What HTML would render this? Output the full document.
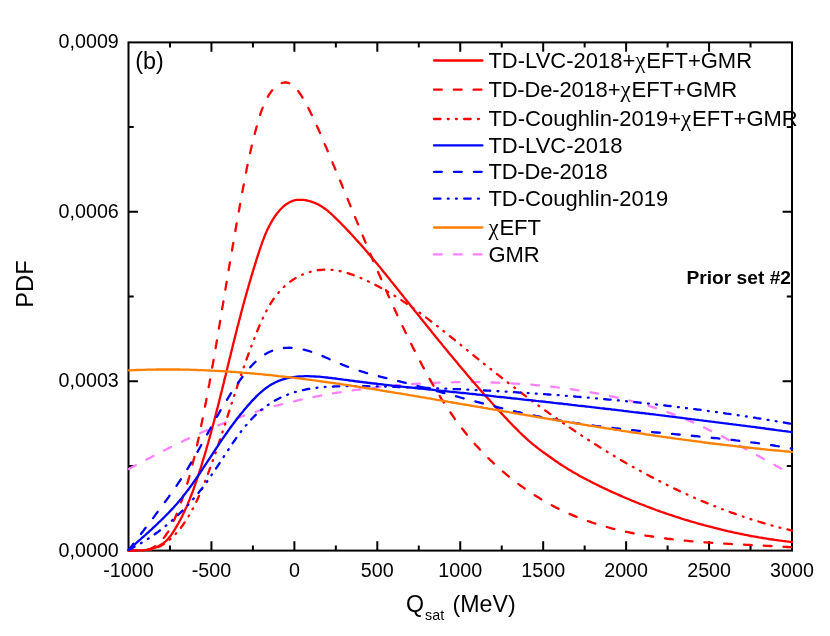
<!DOCTYPE html>
<html><head><meta charset="utf-8"><title>PDF of Qsat</title>
<style>
html,body{margin:0;padding:0;background:#fff;}
body{width:830px;height:636px;overflow:hidden;font-family:"Liberation Sans",sans-serif;}
svg{display:block;will-change:transform;}
</style></head><body>
<svg width="830" height="636" viewBox="0 0 830 636">
<rect x="0" y="0" width="830" height="636" fill="#ffffff"/>
<g stroke="#000" stroke-width="2" fill="none" stroke-linecap="butt">
<rect x="128.5" y="42.4" width="663.5" height="508.20000000000005"/>
<path d="M169.97,550.6 v-5.2 M169.97,42.4 v5.2 M211.44,550.6 v-9.4 M211.44,42.4 v9.4 M252.91,550.6 v-5.2 M252.91,42.4 v5.2 M294.38,550.6 v-9.4 M294.38,42.4 v9.4 M335.84,550.6 v-5.2 M335.84,42.4 v5.2 M377.31,550.6 v-9.4 M377.31,42.4 v9.4 M418.78,550.6 v-5.2 M418.78,42.4 v5.2 M460.25,550.6 v-9.4 M460.25,42.4 v9.4 M501.72,550.6 v-5.2 M501.72,42.4 v5.2 M543.19,550.6 v-9.4 M543.19,42.4 v9.4 M584.66,550.6 v-5.2 M584.66,42.4 v5.2 M626.12,550.6 v-9.4 M626.12,42.4 v9.4 M667.59,550.6 v-5.2 M667.59,42.4 v5.2 M709.06,550.6 v-9.4 M709.06,42.4 v9.4 M750.53,550.6 v-5.2 M750.53,42.4 v5.2 M128.5,465.90 h5.2 M792.0,465.90 h-5.2 M128.5,381.20 h9.4 M792.0,381.20 h-9.4 M128.5,296.50 h5.2 M792.0,296.50 h-5.2 M128.5,211.80 h9.4 M792.0,211.80 h-9.4 M128.5,127.10 h5.2 M792.0,127.10 h-5.2"/>
</g>
<g fill="none" stroke-linecap="round" stroke-linejoin="round" stroke-width="2.3">
<path d="M128.9,469.0 L130.6,468.1 L132.4,467.1 L134.1,466.2 L135.8,465.3 L137.6,464.4 L139.3,463.4 L141.0,462.5 L142.8,461.6 L144.5,460.6 L146.3,459.7 L148.0,458.8 L149.8,457.9 L151.5,457.0 L153.3,456.0 L155.1,455.1 L156.8,454.2 L158.6,453.3 L160.4,452.4 L162.2,451.5 L164.0,450.6 L165.7,449.7 L167.5,448.8 L169.3,447.9 L171.1,447.0 L172.9,446.1 L174.7,445.2 L176.5,444.3 L178.3,443.4 L180.1,442.5 L181.9,441.7 L183.7,440.8 L185.6,439.9 L187.4,439.1 L189.2,438.2 L191.0,437.4 L192.9,436.5 L194.7,435.7 L196.5,434.8 L198.3,434.0 L200.2,433.2 L202.0,432.3 L203.9,431.5 L205.7,430.7 L207.6,429.9 L209.4,429.1 L211.3,428.3 L213.1,427.5 L215.0,426.8 L216.8,426.0 L218.7,425.2 L220.6,424.5 L222.4,423.7 L224.3,423.0 L226.2,422.2 L228.0,421.5 L229.9,420.8 L231.8,420.1 L233.7,419.4 L235.6,418.7 L237.4,418.0 L239.3,417.3 L241.2,416.6 L243.1,416.0 L245.0,415.3 L246.9,414.7 L248.8,414.0 L250.7,413.4 L252.6,412.8 L254.5,412.2 L256.4,411.6 L258.3,411.0 L260.2,410.4 L262.1,409.8 L264.1,409.2 L266.0,408.7 L267.9,408.1 L269.8,407.6 L271.7,407.0 L273.7,406.5 L275.6,405.9 L277.5,405.4 L279.4,404.9 L281.4,404.4 L283.3,403.9 L285.2,403.4 L287.2,402.9 L289.1,402.4 L291.0,402.0 L293.0,401.5 L294.9,401.1 L296.9,400.6 L298.8,400.2 L300.8,399.7 L302.7,399.3 L304.7,398.9 L306.6,398.4 L308.6,398.0 L310.5,397.6 L312.5,397.2 L314.4,396.8 L316.4,396.4 L318.3,396.1 L320.3,395.7 L322.3,395.3 L324.2,395.0 L326.2,394.6 L328.2,394.3 L330.1,393.9 L332.1,393.6 L334.1,393.2 L336.0,392.9 L338.0,392.6 L340.0,392.3 L341.9,392.0 L343.9,391.7 L345.9,391.4 L347.9,391.1 L349.9,390.8 L351.8,390.5 L353.8,390.2 L355.8,389.9 L357.8,389.7 L359.8,389.4 L361.7,389.1 L363.7,388.9 L365.7,388.6 L367.7,388.4 L369.7,388.1 L371.7,387.9 L373.7,387.7 L375.7,387.4 L377.6,387.2 L379.6,387.0 L381.6,386.8 L383.6,386.6 L385.6,386.4 L387.6,386.2 L389.6,386.0 L391.6,385.8 L393.6,385.6 L395.6,385.4 L397.6,385.2 L399.6,385.1 L401.6,384.9 L403.6,384.7 L405.6,384.6 L407.6,384.4 L409.6,384.3 L411.6,384.1 L413.6,384.0 L415.6,383.9 L417.6,383.7 L419.6,383.6 L421.6,383.5 L423.6,383.4 L425.6,383.3 L427.6,383.2 L429.6,383.1 L431.6,383.0 L433.6,382.9 L435.6,382.8 L437.6,382.7 L439.6,382.6 L441.6,382.6 L443.6,382.5 L445.6,382.5 L447.6,382.4 L449.6,382.3 L451.6,382.3 L453.6,382.3 L455.6,382.2 L457.6,382.2 L459.7,382.2 L461.7,382.2 L463.7,382.1 L465.7,382.1 L467.7,382.1 L469.7,382.1 L471.7,382.1 L473.7,382.1 L475.7,382.2 L477.7,382.2 L479.7,382.2 L481.7,382.2 L483.7,382.3 L485.7,382.3 L487.7,382.4 L489.7,382.4 L491.7,382.5 L493.7,382.5 L495.7,382.6 L497.7,382.7 L499.7,382.8 L501.7,382.8 L503.7,382.9 L505.7,383.0 L507.7,383.1 L509.7,383.2 L511.7,383.3 L513.7,383.5 L515.7,383.6 L517.6,383.7 L519.6,383.8 L521.6,384.0 L523.6,384.1 L525.6,384.3 L527.6,384.4 L529.6,384.6 L531.6,384.7 L533.6,384.9 L535.6,385.1 L537.5,385.3 L539.5,385.5 L541.5,385.7 L543.5,385.9 L545.5,386.1 L547.5,386.3 L549.4,386.5 L551.4,386.7 L553.4,386.9 L555.4,387.2 L557.3,387.4 L559.3,387.6 L561.3,387.9 L563.3,388.1 L565.2,388.4 L567.2,388.7 L569.2,388.9 L571.1,389.2 L573.1,389.5 L575.1,389.8 L577.0,390.1 L579.0,390.4 L581.0,390.7 L582.9,391.0 L584.9,391.3 L586.8,391.6 L588.8,392.0 L590.8,392.3 L592.7,392.7 L594.7,393.0 L596.6,393.4 L598.6,393.7 L600.5,394.1 L602.5,394.5 L604.4,394.9 L606.3,395.2 L608.3,395.6 L610.2,396.1 L612.2,396.5 L614.1,396.9 L616.0,397.3 L618.0,397.8 L619.9,398.2 L621.8,398.6 L623.8,399.1 L625.7,399.6 L627.6,400.1 L629.5,400.5 L631.5,401.0 L633.4,401.5 L635.3,402.1 L637.2,402.6 L639.1,403.1 L641.0,403.6 L642.9,404.2 L644.8,404.7 L646.8,405.3 L648.7,405.9 L650.6,406.5 L652.5,407.1 L654.4,407.7 L656.3,408.3 L658.1,408.9 L660.0,409.5 L661.9,410.2 L663.8,410.8 L665.7,411.5 L667.6,412.2 L669.5,412.9 L671.3,413.6 L673.2,414.3 L675.1,415.0 L677.0,415.7 L678.8,416.5 L680.7,417.2 L682.6,418.0 L684.4,418.7 L686.3,419.5 L688.1,420.3 L690.0,421.1 L691.8,421.9 L693.7,422.7 L695.5,423.6 L697.4,424.4 L699.2,425.2 L701.1,426.1 L702.9,427.0 L704.7,427.8 L706.6,428.7 L708.4,429.6 L710.2,430.5 L712.1,431.4 L713.9,432.3 L715.7,433.2 L717.5,434.1 L719.3,435.0 L721.1,435.9 L722.9,436.8 L724.7,437.8 L726.6,438.7 L728.3,439.7 L730.1,440.6 L731.9,441.6 L733.7,442.5 L735.5,443.5 L737.3,444.4 L739.1,445.4 L740.9,446.3 L742.6,447.3 L744.4,448.3 L746.2,449.2 L747.9,450.2 L749.7,451.2 L751.5,452.1 L753.2,453.1 L755.0,454.1 L756.7,455.1 L758.5,456.0 L760.2,457.0 L762.0,458.0 L763.7,458.9 L765.4,459.9 L767.2,460.9 L768.9,461.8 L770.6,462.8 L772.3,463.8 L774.1,464.7 L775.8,465.7 L777.5,466.6 L779.2,467.6 L780.9,468.5 L782.6,469.5 L783.4,469.9" stroke="#ff80ff" stroke-dasharray="7.8 12.1"/>
<path d="M128.5,550.4 L130.3,550.4 L132.2,550.4 L134.2,550.4 L136.2,550.4 L138.2,550.4 L140.3,550.4 L142.4,550.4 L144.5,550.2 L146.5,549.9 L148.6,549.5 L150.6,549.0 L152.6,548.4 L154.6,547.8 L156.5,547.1 L158.3,546.2 L160.1,545.3 L161.8,544.3 L163.4,543.2 L164.9,542.0 L166.4,540.7 L167.7,539.3 L169.0,537.8 L170.2,536.3 L171.4,534.7 L172.5,533.1 L173.6,531.5 L174.6,529.8 L175.6,528.1 L176.6,526.4 L177.6,524.7 L178.6,523.0 L179.5,521.2 L180.5,519.5 L181.4,517.7 L182.3,515.9 L183.1,514.1 L184.0,512.4 L184.8,510.5 L185.6,508.7 L186.5,506.9 L187.3,505.1 L188.0,503.3 L188.8,501.4 L189.6,499.6 L190.3,497.7 L191.0,495.8 L191.7,494.0 L192.5,492.1 L193.2,490.2 L193.8,488.3 L194.5,486.4 L195.2,484.5 L195.8,482.6 L196.5,480.7 L197.1,478.8 L197.8,476.9 L198.4,475.0 L199.0,473.1 L199.6,471.2 L200.2,469.3 L200.9,467.4 L201.5,465.4 L202.0,463.5 L202.6,461.6 L203.2,459.7 L203.8,457.7 L204.4,455.8 L205.0,453.9 L205.5,452.0 L206.1,450.0 L206.6,448.1 L207.2,446.2 L207.7,444.3 L208.3,442.3 L208.8,440.4 L209.4,438.5 L209.9,436.5 L210.4,434.6 L211.0,432.7 L211.5,430.7 L212.0,428.8 L212.5,426.8 L213.1,424.9 L213.6,423.0 L214.1,421.0 L214.6,419.1 L215.1,417.2 L215.6,415.2 L216.1,413.3 L216.6,411.3 L217.1,409.4 L217.6,407.5 L218.1,405.5 L218.6,403.6 L219.1,401.6 L219.5,399.7 L220.0,397.8 L220.5,395.8 L221.0,393.9 L221.5,392.0 L222.0,390.0 L222.4,388.1 L222.9,386.1 L223.4,384.2 L223.9,382.3 L224.3,380.3 L224.8,378.4 L225.3,376.5 L225.8,374.5 L226.2,372.6 L226.7,370.7 L227.2,368.7 L227.6,366.8 L228.1,364.9 L228.6,362.9 L229.1,361.0 L229.5,359.1 L230.0,357.1 L230.5,355.2 L230.9,353.3 L231.4,351.4 L231.9,349.4 L232.4,347.5 L232.8,345.6 L233.3,343.6 L233.8,341.7 L234.3,339.8 L234.8,337.9 L235.3,335.9 L235.7,334.0 L236.2,332.1 L236.7,330.2 L237.2,328.2 L237.7,326.3 L238.2,324.4 L238.7,322.5 L239.2,320.5 L239.7,318.6 L240.2,316.7 L240.7,314.8 L241.2,312.8 L241.7,310.9 L242.2,309.0 L242.7,307.1 L243.2,305.1 L243.8,303.2 L244.3,301.3 L244.8,299.4 L245.4,297.4 L245.9,295.5 L246.4,293.6 L247.0,291.6 L247.5,289.7 L248.1,287.8 L248.6,285.9 L249.2,283.9 L249.7,282.0 L250.3,280.1 L250.9,278.1 L251.4,276.2 L252.0,274.3 L252.6,272.3 L253.2,270.4 L253.8,268.4 L254.4,266.5 L255.0,264.6 L255.6,262.6 L256.2,260.7 L256.8,258.7 L257.4,256.8 L258.0,254.9 L258.7,252.9 L259.3,251.0 L259.9,249.0 L260.6,247.1 L261.3,245.1 L261.9,243.2 L262.6,241.3 L263.4,239.4 L264.1,237.5 L264.8,235.6 L265.6,233.7 L266.4,231.9 L267.2,230.1 L268.1,228.3 L269.0,226.5 L269.9,224.7 L270.8,223.0 L271.8,221.3 L272.8,219.6 L273.9,217.9 L274.9,216.3 L276.1,214.7 L277.2,213.2 L278.5,211.7 L279.7,210.2 L281.0,208.8 L282.4,207.5 L283.8,206.2 L285.3,205.0 L286.8,203.9 L288.4,202.9 L290.0,202.0 L291.7,201.3 L293.5,200.7 L295.3,200.2 L297.2,199.9 L299.1,199.8 L301.1,199.8 L303.1,199.9 L305.1,200.1 L307.2,200.5 L309.2,201.0 L311.2,201.6 L313.2,202.3 L315.2,203.1 L317.2,204.0 L319.1,204.9 L320.9,206.0 L322.6,207.1 L324.3,208.3 L326.0,209.5 L327.6,210.7 L329.1,212.1 L330.7,213.4 L332.2,214.8 L333.6,216.2 L335.1,217.6 L336.5,219.0 L337.9,220.4 L339.4,221.8 L340.8,223.2 L342.2,224.7 L343.6,226.1 L345.0,227.5 L346.3,229.0 L347.7,230.4 L349.1,231.9 L350.4,233.3 L351.8,234.8 L353.1,236.2 L354.5,237.7 L355.8,239.2 L357.1,240.6 L358.5,242.1 L359.8,243.6 L361.1,245.1 L362.4,246.5 L363.7,248.0 L365.0,249.5 L366.3,251.0 L367.6,252.5 L368.8,254.0 L370.1,255.5 L371.4,257.0 L372.6,258.5 L373.9,260.0 L375.2,261.5 L376.4,263.1 L377.7,264.6 L378.9,266.1 L380.2,267.6 L381.4,269.1 L382.7,270.7 L383.9,272.2 L385.2,273.7 L386.4,275.3 L387.6,276.8 L388.9,278.3 L390.1,279.9 L391.3,281.4 L392.6,282.9 L393.8,284.5 L395.0,286.0 L396.3,287.6 L397.5,289.1 L398.8,290.7 L400.0,292.2 L401.2,293.8 L402.5,295.3 L403.7,296.9 L404.9,298.4 L406.2,300.0 L407.4,301.5 L408.7,303.1 L409.9,304.6 L411.1,306.2 L412.4,307.8 L413.6,309.3 L414.9,310.9 L416.1,312.4 L417.4,314.0 L418.6,315.5 L419.9,317.1 L421.1,318.7 L422.4,320.2 L423.6,321.8 L424.9,323.3 L426.1,324.9 L427.4,326.5 L428.6,328.0 L429.9,329.6 L431.2,331.1 L432.4,332.7 L433.7,334.3 L434.9,335.8 L436.2,337.4 L437.5,338.9 L438.7,340.5 L440.0,342.0 L441.3,343.6 L442.5,345.1 L443.8,346.7 L445.1,348.2 L446.4,349.8 L447.6,351.3 L448.9,352.9 L450.2,354.4 L451.5,356.0 L452.7,357.5 L454.0,359.1 L455.3,360.6 L456.6,362.1 L457.9,363.7 L459.1,365.2 L460.4,366.7 L461.7,368.3 L463.0,369.8 L464.3,371.3 L465.6,372.8 L466.9,374.4 L468.2,375.9 L469.5,377.4 L470.8,378.9 L472.1,380.4 L473.4,381.9 L474.7,383.4 L476.0,384.9 L477.3,386.4 L478.6,387.9 L479.9,389.4 L481.2,390.9 L482.5,392.4 L483.8,393.9 L485.1,395.4 L486.5,396.9 L487.8,398.3 L489.1,399.8 L490.4,401.3 L491.7,402.8 L493.1,404.2 L494.4,405.7 L495.7,407.1 L497.0,408.6 L498.4,410.0 L499.7,411.5 L501.0,412.9 L502.4,414.4 L503.7,415.8 L505.1,417.2 L506.4,418.6 L507.7,420.1 L509.1,421.5 L510.4,422.9 L511.8,424.3 L513.1,425.7 L514.5,427.1 L515.8,428.4 L517.2,429.8 L518.6,431.2 L519.9,432.5 L521.3,433.8 L522.6,435.1 L524.0,436.4 L525.4,437.7 L526.7,438.9 L528.1,440.2 L529.5,441.4 L530.9,442.5 L532.2,443.7 L533.6,444.8 L535.0,445.9 L536.4,447.0 L537.8,448.1 L539.2,449.2 L540.6,450.2 L542.0,451.3 L543.3,452.3 L544.7,453.3 L546.1,454.3 L547.5,455.3 L548.9,456.3 L550.4,457.3 L551.8,458.3 L553.2,459.3 L554.6,460.3 L556.0,461.3 L557.5,462.2 L558.9,463.2 L560.4,464.2 L561.9,465.2 L563.3,466.1 L564.8,467.1 L566.4,468.0 L567.9,469.0 L569.4,469.9 L571.0,470.8 L572.5,471.8 L574.1,472.7 L575.7,473.6 L577.4,474.5 L579.0,475.5 L580.6,476.4 L582.3,477.3 L584.0,478.2 L585.7,479.1 L587.4,480.0 L589.1,480.8 L590.8,481.7 L592.5,482.6 L594.3,483.5 L596.0,484.3 L597.8,485.2 L599.5,486.1 L601.3,486.9 L603.0,487.8 L604.8,488.6 L606.6,489.4 L608.4,490.3 L610.1,491.1 L611.9,491.9 L613.7,492.7 L615.5,493.5 L617.3,494.3 L619.1,495.1 L620.9,495.9 L622.8,496.7 L624.6,497.5 L626.4,498.3 L628.2,499.0 L630.1,499.8 L631.9,500.6 L633.7,501.3 L635.6,502.1 L637.4,502.8 L639.3,503.6 L641.1,504.3 L643.0,505.0 L644.9,505.7 L646.7,506.5 L648.6,507.2 L650.5,507.9 L652.4,508.6 L654.2,509.3 L656.1,510.0 L658.0,510.6 L659.9,511.3 L661.8,512.0 L663.7,512.6 L665.6,513.3 L667.5,514.0 L669.4,514.6 L671.3,515.2 L673.2,515.9 L675.1,516.5 L677.0,517.1 L678.9,517.7 L680.9,518.4 L682.8,519.0 L684.7,519.6 L686.6,520.1 L688.5,520.7 L690.5,521.3 L692.4,521.9 L694.3,522.4 L696.3,523.0 L698.2,523.6 L700.2,524.1 L702.1,524.6 L704.0,525.2 L706.0,525.7 L707.9,526.2 L709.9,526.7 L711.8,527.2 L713.8,527.7 L715.7,528.2 L717.7,528.7 L719.6,529.2 L721.6,529.7 L723.6,530.1 L725.5,530.6 L727.5,531.1 L729.4,531.5 L731.4,531.9 L733.4,532.4 L735.3,532.8 L737.3,533.2 L739.2,533.6 L741.2,534.0 L743.2,534.4 L745.1,534.8 L747.1,535.2 L749.1,535.6 L751.0,536.0 L753.0,536.3 L755.0,536.7 L756.9,537.0 L758.9,537.4 L760.9,537.7 L762.8,538.0 L764.8,538.3 L766.8,538.7 L768.7,539.0 L770.7,539.3 L772.7,539.5 L774.6,539.8 L776.6,540.1 L778.6,540.4 L780.5,540.6 L782.5,540.9 L784.4,541.1 L786.4,541.4 L788.4,541.6 L790.3,541.8 L792.0,542.0" stroke="#ff0000"/>
<path d="M128.5,550.4 L130.9,550.4 L133.2,550.4 L135.5,550.4 L137.7,550.4 L139.8,550.4 L141.8,550.4 L143.8,550.4 L145.7,550.4 L147.5,549.9 L149.3,549.2 L151.0,548.5 L152.6,547.7 L154.2,546.8 L155.7,545.8 L157.1,544.7 L158.5,543.5 L159.9,542.3 L161.2,540.9 L162.4,539.6 L163.6,538.1 L164.8,536.6 L165.9,535.0 L167.0,533.4 L168.1,531.8 L169.1,530.1 L170.0,528.3 L171.0,526.6 L171.9,524.7 L172.8,522.9 L173.6,521.1 L174.5,519.2 L175.3,517.3 L176.1,515.4 L176.9,513.5 L177.6,511.6 L178.4,509.7 L179.1,507.8 L179.8,505.9 L180.5,503.9 L181.2,502.0 L181.9,500.1 L182.6,498.2 L183.2,496.3 L183.9,494.4 L184.5,492.4 L185.1,490.5 L185.7,488.6 L186.3,486.7 L186.9,484.8 L187.5,482.8 L188.1,480.9 L188.6,479.0 L189.2,477.0 L189.7,475.1 L190.2,473.2 L190.8,471.3 L191.3,469.3 L191.8,467.4 L192.3,465.5 L192.8,463.5 L193.2,461.6 L193.7,459.6 L194.2,457.7 L194.6,455.8 L195.1,453.8 L195.5,451.9 L196.0,450.0 L196.4,448.0 L196.9,446.1 L197.3,444.1 L197.7,442.2 L198.1,440.2 L198.6,438.3 L199.0,436.3 L199.4,434.4 L199.8,432.4 L200.2,430.5 L200.6,428.5 L201.0,426.6 L201.4,424.6 L201.8,422.7 L202.2,420.7 L202.6,418.8 L203.0,416.8 L203.4,414.9 L203.8,412.9 L204.2,411.0 L204.6,409.0 L204.9,407.1 L205.3,405.1 L205.7,403.1 L206.1,401.2 L206.4,399.2 L206.8,397.3 L207.2,395.3 L207.5,393.3 L207.9,391.4 L208.3,389.4 L208.6,387.5 L209.0,385.5 L209.4,383.5 L209.7,381.6 L210.1,379.6 L210.4,377.6 L210.8,375.7 L211.1,373.7 L211.5,371.7 L211.8,369.8 L212.2,367.8 L212.5,365.8 L212.9,363.9 L213.2,361.9 L213.6,359.9 L213.9,358.0 L214.2,356.0 L214.6,354.0 L214.9,352.1 L215.3,350.1 L215.6,348.1 L215.9,346.1 L216.3,344.2 L216.6,342.2 L216.9,340.2 L217.3,338.2 L217.6,336.3 L217.9,334.3 L218.3,332.3 L218.6,330.4 L218.9,328.4 L219.2,326.4 L219.6,324.4 L219.9,322.5 L220.2,320.5 L220.6,318.5 L220.9,316.5 L221.2,314.5 L221.5,312.6 L221.9,310.6 L222.2,308.6 L222.5,306.6 L222.9,304.7 L223.2,302.7 L223.5,300.7 L223.8,298.7 L224.2,296.7 L224.5,294.8 L224.8,292.8 L225.2,290.8 L225.5,288.8 L225.8,286.9 L226.1,284.9 L226.5,282.9 L226.8,280.9 L227.1,278.9 L227.5,277.0 L227.8,275.0 L228.1,273.0 L228.5,271.0 L228.8,269.0 L229.1,267.1 L229.5,265.1 L229.8,263.1 L230.2,261.1 L230.5,259.1 L230.8,257.2 L231.2,255.2 L231.5,253.2 L231.9,251.2 L232.2,249.3 L232.5,247.3 L232.9,245.3 L233.2,243.3 L233.6,241.4 L233.9,239.4 L234.2,237.4 L234.6,235.4 L234.9,233.5 L235.3,231.5 L235.6,229.5 L236.0,227.6 L236.3,225.6 L236.7,223.6 L237.0,221.7 L237.4,219.7 L237.7,217.8 L238.0,215.8 L238.4,213.9 L238.7,211.9 L239.1,210.0 L239.4,208.0 L239.8,206.1 L240.1,204.1 L240.5,202.2 L240.8,200.2 L241.2,198.3 L241.5,196.3 L241.9,194.4 L242.2,192.5 L242.6,190.5 L242.9,188.6 L243.3,186.7 L243.7,184.7 L244.0,182.8 L244.4,180.9 L244.8,178.9 L245.1,177.0 L245.5,175.1 L245.9,173.1 L246.3,171.2 L246.6,169.3 L247.0,167.3 L247.4,165.4 L247.8,163.4 L248.2,161.5 L248.7,159.5 L249.1,157.6 L249.5,155.6 L249.9,153.7 L250.4,151.7 L250.8,149.8 L251.3,147.8 L251.7,145.8 L252.2,143.8 L252.7,141.9 L253.2,139.9 L253.7,137.9 L254.2,135.9 L254.7,133.9 L255.2,131.9 L255.8,129.9 L256.3,127.8 L256.9,125.8 L257.5,123.8 L258.0,121.7 L258.6,119.7 L259.3,117.7 L259.9,115.6 L260.5,113.6 L261.2,111.6 L261.9,109.6 L262.7,107.6 L263.4,105.7 L264.2,103.8 L265.1,101.9 L266.0,100.1 L266.9,98.3 L267.9,96.6 L268.9,94.9 L270.0,93.3 L271.1,91.7 L272.3,90.3 L273.6,88.9 L274.9,87.5 L276.3,86.3 L277.7,85.2 L279.2,84.3 L280.7,83.5 L282.2,82.9 L283.7,82.6 L285.2,82.4 L286.7,82.5 L288.2,82.9 L289.7,83.4 L291.2,84.2 L292.6,85.1 L294.0,86.3 L295.3,87.6 L296.6,89.0 L297.9,90.6 L299.1,92.3 L300.3,94.0 L301.5,95.9 L302.6,97.7 L303.7,99.6 L304.8,101.5 L305.9,103.4 L306.9,105.3 L307.9,107.3 L308.9,109.2 L309.9,111.1 L310.8,113.1 L311.8,115.0 L312.7,116.9 L313.6,118.8 L314.4,120.7 L315.3,122.5 L316.1,124.4 L317.0,126.2 L317.8,128.0 L318.6,129.8 L319.4,131.6 L320.2,133.4 L320.9,135.2 L321.7,137.0 L322.5,138.8 L323.2,140.5 L324.0,142.3 L324.7,144.1 L325.5,145.9 L326.3,147.6 L327.0,149.4 L327.8,151.2 L328.5,153.0 L329.3,154.9 L330.0,156.7 L330.8,158.5 L331.6,160.4 L332.4,162.2 L333.1,164.1 L333.9,165.9 L334.7,167.8 L335.5,169.7 L336.3,171.6 L337.1,173.4 L337.9,175.3 L338.6,177.2 L339.4,179.1 L340.2,181.0 L341.0,182.8 L341.8,184.7 L342.5,186.6 L343.3,188.4 L344.1,190.3 L344.8,192.2 L345.6,194.0 L346.4,195.9 L347.1,197.7 L347.9,199.5 L348.6,201.4 L349.4,203.2 L350.1,205.0 L350.9,206.9 L351.6,208.7 L352.4,210.5 L353.1,212.3 L353.9,214.2 L354.6,216.0 L355.4,217.8 L356.1,219.6 L356.9,221.4 L357.6,223.2 L358.4,225.0 L359.1,226.9 L359.8,228.7 L360.6,230.5 L361.3,232.3 L362.1,234.1 L362.8,235.9 L363.6,237.7 L364.3,239.5 L365.1,241.4 L365.8,243.2 L366.6,245.0 L367.4,246.8 L368.1,248.6 L368.9,250.5 L369.7,252.3 L370.4,254.1 L371.2,255.9 L372.0,257.7 L372.7,259.6 L373.5,261.4 L374.3,263.2 L375.1,265.0 L375.8,266.9 L376.6,268.7 L377.4,270.5 L378.2,272.4 L379.0,274.2 L379.8,276.0 L380.6,277.8 L381.4,279.7 L382.2,281.5 L383.0,283.3 L383.8,285.1 L384.6,287.0 L385.4,288.8 L386.2,290.6 L387.0,292.4 L387.8,294.2 L388.6,296.1 L389.4,297.9 L390.2,299.7 L391.1,301.5 L391.9,303.3 L392.7,305.2 L393.6,307.0 L394.4,308.8 L395.2,310.6 L396.1,312.4 L396.9,314.2 L397.7,316.0 L398.6,317.8 L399.4,319.6 L400.3,321.4 L401.1,323.2 L402.0,325.0 L402.8,326.8 L403.7,328.6 L404.6,330.4 L405.4,332.2 L406.3,334.0 L407.2,335.8 L408.0,337.6 L408.9,339.3 L409.8,341.1 L410.7,342.9 L411.6,344.7 L412.4,346.4 L413.3,348.2 L414.2,349.9 L415.1,351.7 L416.0,353.5 L416.9,355.2 L417.8,357.0 L418.7,358.7 L419.6,360.5 L420.6,362.2 L421.5,363.9 L422.4,365.7 L423.3,367.4 L424.3,369.1 L425.2,370.8 L426.1,372.6 L427.1,374.3 L428.0,376.0 L429.0,377.7 L429.9,379.4 L430.9,381.1 L431.8,382.8 L432.8,384.5 L433.8,386.2 L434.8,387.8 L435.8,389.5 L436.8,391.2 L437.8,392.8 L438.8,394.5 L439.8,396.2 L440.8,397.8 L441.8,399.5 L442.9,401.1 L443.9,402.7 L445.0,404.4 L446.0,406.0 L447.1,407.6 L448.2,409.2 L449.3,410.8 L450.4,412.4 L451.5,414.0 L452.6,415.6 L453.7,417.2 L454.8,418.8 L456.0,420.4 L457.1,421.9 L458.3,423.5 L459.4,425.1 L460.6,426.6 L461.8,428.2 L463.0,429.7 L464.2,431.2 L465.4,432.7 L466.6,434.3 L467.9,435.8 L469.1,437.3 L470.4,438.8 L471.6,440.3 L472.9,441.8 L474.2,443.2 L475.5,444.7 L476.9,446.2 L478.2,447.6 L479.5,449.1 L480.9,450.5 L482.2,451.9 L483.6,453.4 L485.0,454.8 L486.4,456.2 L487.8,457.6 L489.2,459.0 L490.6,460.4 L492.1,461.7 L493.5,463.1 L495.0,464.5 L496.4,465.8 L497.9,467.1 L499.4,468.5 L500.9,469.8 L502.4,471.1 L503.9,472.4 L505.4,473.7 L506.9,475.0 L508.5,476.2 L510.0,477.5 L511.6,478.7 L513.2,480.0 L514.7,481.2 L516.3,482.4 L517.9,483.6 L519.5,484.8 L521.1,486.0 L522.8,487.1 L524.4,488.3 L526.0,489.4 L527.7,490.6 L529.3,491.7 L531.0,492.8 L532.6,493.9 L534.3,495.0 L536.0,496.0 L537.7,497.1 L539.4,498.1 L541.1,499.2 L542.8,500.2 L544.5,501.2 L546.3,502.2 L548.0,503.2 L549.8,504.1 L551.5,505.1 L553.3,506.0 L555.0,506.9 L556.8,507.9 L558.6,508.8 L560.4,509.6 L562.1,510.5 L563.9,511.3 L565.7,512.2 L567.6,513.0 L569.4,513.8 L571.2,514.6 L573.0,515.4 L574.8,516.1 L576.7,516.9 L578.5,517.6 L580.4,518.3 L582.2,519.0 L584.1,519.7 L586.0,520.4 L587.8,521.1 L589.7,521.7 L591.6,522.4 L593.5,523.0 L595.4,523.6 L597.3,524.2 L599.2,524.8 L601.1,525.4 L603.0,525.9 L604.9,526.5 L606.8,527.0 L608.7,527.5 L610.6,528.1 L612.6,528.6 L614.5,529.1 L616.4,529.5 L618.4,530.0 L620.3,530.5 L622.3,530.9 L624.2,531.4 L626.2,531.8 L628.1,532.2 L630.1,532.6 L632.1,533.0 L634.0,533.4 L636.0,533.8 L638.0,534.2 L640.0,534.5 L641.9,534.9 L643.9,535.2 L645.9,535.6 L647.9,535.9 L649.9,536.2 L651.9,536.5 L653.9,536.8 L655.9,537.1 L657.9,537.4 L659.9,537.7 L661.9,538.0 L663.9,538.2 L665.9,538.5 L667.9,538.8 L669.9,539.0 L671.9,539.2 L673.9,539.5 L675.9,539.7 L677.9,539.9 L679.9,540.1 L681.9,540.3 L684.0,540.5 L686.0,540.7 L688.0,540.9 L690.0,541.1 L692.0,541.3 L694.0,541.5 L696.1,541.6 L698.1,541.8 L700.1,542.0 L702.1,542.1 L704.1,542.3 L706.1,542.4 L708.2,542.6 L710.2,542.7 L712.2,542.8 L714.2,543.0 L716.2,543.1 L718.2,543.2 L720.3,543.4 L722.3,543.5 L724.3,543.6 L726.3,543.7 L728.3,543.8 L730.3,543.9 L732.3,544.1 L734.3,544.2 L736.3,544.3 L738.3,544.4 L740.3,544.5 L742.3,544.6 L744.3,544.7 L746.3,544.8 L748.3,544.9 L750.3,545.0 L752.3,545.1 L754.3,545.2 L756.3,545.3 L758.3,545.4 L760.2,545.5 L762.2,545.6 L764.2,545.7 L766.2,545.8 L768.1,545.9 L770.1,546.0 L772.1,546.1 L774.0,546.2 L776.0,546.3 L777.9,546.4 L779.9,546.5 L781.8,546.6 L783.8,546.8 L785.7,546.9 L787.6,547.0 L789.6,547.1 L791.5,547.2 L792.0,547.3" stroke="#ff0000" stroke-dasharray="7.8 12"/>
<path d="M128.5,550.4 L130.8,550.4 L133.1,550.4 L135.4,550.4 L137.6,550.4 L139.8,550.4 L141.9,550.4 L143.9,550.4 L146.0,550.4 L147.9,550.4 L149.9,550.1 L151.8,549.6 L153.6,549.0 L155.4,548.4 L157.2,547.6 L158.9,546.8 L160.6,546.0 L162.2,545.0 L163.8,544.0 L165.4,543.0 L166.9,541.9 L168.5,540.7 L169.9,539.5 L171.4,538.2 L172.8,536.9 L174.1,535.5 L175.5,534.1 L176.8,532.7 L178.0,531.2 L179.3,529.7 L180.5,528.2 L181.7,526.6 L182.9,525.0 L184.0,523.4 L185.1,521.8 L186.2,520.1 L187.3,518.4 L188.3,516.7 L189.3,515.0 L190.3,513.3 L191.3,511.5 L192.2,509.8 L193.2,508.0 L194.1,506.2 L195.0,504.4 L195.9,502.6 L196.8,500.8 L197.6,499.0 L198.5,497.1 L199.3,495.3 L200.1,493.4 L200.9,491.5 L201.7,489.7 L202.5,487.8 L203.2,485.9 L204.0,484.0 L204.7,482.1 L205.5,480.3 L206.2,478.4 L206.9,476.5 L207.7,474.6 L208.4,472.7 L209.1,470.8 L209.8,468.9 L210.5,467.0 L211.2,465.1 L211.9,463.2 L212.5,461.3 L213.2,459.5 L213.9,457.6 L214.6,455.7 L215.2,453.8 L215.9,451.9 L216.5,450.0 L217.2,448.1 L217.8,446.2 L218.4,444.3 L219.1,442.4 L219.7,440.5 L220.3,438.6 L221.0,436.7 L221.6,434.8 L222.2,432.9 L222.8,431.0 L223.4,429.1 L224.1,427.2 L224.7,425.3 L225.3,423.5 L225.9,421.6 L226.5,419.7 L227.1,417.8 L227.7,415.9 L228.3,414.0 L228.9,412.1 L229.5,410.2 L230.1,408.4 L230.7,406.5 L231.3,404.6 L231.9,402.7 L232.5,400.8 L233.1,399.0 L233.7,397.1 L234.4,395.2 L235.0,393.3 L235.6,391.5 L236.2,389.6 L236.8,387.7 L237.4,385.9 L238.0,384.0 L238.7,382.1 L239.3,380.3 L239.9,378.4 L240.6,376.5 L241.2,374.7 L241.8,372.8 L242.5,370.9 L243.1,369.1 L243.8,367.2 L244.4,365.3 L245.1,363.4 L245.7,361.6 L246.4,359.7 L247.1,357.8 L247.8,355.9 L248.5,354.0 L249.1,352.1 L249.8,350.2 L250.5,348.3 L251.3,346.4 L252.0,344.5 L252.7,342.6 L253.4,340.7 L254.2,338.8 L254.9,336.9 L255.7,334.9 L256.4,333.0 L257.2,331.1 L258.0,329.2 L258.8,327.2 L259.6,325.3 L260.4,323.4 L261.2,321.5 L262.1,319.6 L263.0,317.8 L263.9,315.9 L264.8,314.0 L265.7,312.2 L266.7,310.4 L267.6,308.6 L268.6,306.9 L269.7,305.1 L270.7,303.4 L271.8,301.7 L272.9,300.0 L274.0,298.4 L275.2,296.8 L276.4,295.2 L277.6,293.7 L278.9,292.2 L280.1,290.7 L281.5,289.3 L282.8,287.9 L284.2,286.6 L285.6,285.3 L287.1,284.1 L288.6,282.9 L290.1,281.7 L291.7,280.6 L293.3,279.6 L294.9,278.5 L296.5,277.6 L298.2,276.7 L299.9,275.8 L301.6,275.0 L303.4,274.2 L305.1,273.5 L306.9,272.9 L308.7,272.3 L310.5,271.8 L312.3,271.3 L314.2,270.9 L316.0,270.5 L317.9,270.2 L319.8,270.0 L321.7,269.8 L323.6,269.7 L325.5,269.6 L327.4,269.6 L329.3,269.7 L331.2,269.8 L333.2,270.0 L335.1,270.3 L337.0,270.6 L339.0,270.9 L340.9,271.3 L342.8,271.8 L344.7,272.3 L346.7,272.9 L348.6,273.4 L350.5,274.1 L352.4,274.7 L354.3,275.4 L356.2,276.2 L358.1,276.9 L360.0,277.7 L361.9,278.5 L363.8,279.3 L365.6,280.2 L367.5,281.0 L369.3,281.9 L371.1,282.8 L373.0,283.7 L374.8,284.6 L376.6,285.5 L378.4,286.5 L380.1,287.4 L381.9,288.4 L383.7,289.4 L385.4,290.4 L387.2,291.4 L388.9,292.4 L390.6,293.4 L392.4,294.4 L394.1,295.5 L395.8,296.5 L397.5,297.6 L399.2,298.7 L400.9,299.8 L402.5,300.9 L404.2,302.0 L405.9,303.1 L407.5,304.2 L409.2,305.3 L410.8,306.4 L412.4,307.6 L414.1,308.7 L415.7,309.9 L417.3,311.1 L418.9,312.2 L420.5,313.4 L422.1,314.6 L423.7,315.8 L425.3,317.0 L426.9,318.2 L428.5,319.4 L430.1,320.6 L431.7,321.8 L433.3,323.0 L434.8,324.2 L436.4,325.4 L438.0,326.6 L439.5,327.9 L441.1,329.1 L442.6,330.3 L444.2,331.6 L445.8,332.8 L447.3,334.0 L448.9,335.3 L450.4,336.5 L452.0,337.8 L453.5,339.0 L455.0,340.3 L456.6,341.5 L458.1,342.8 L459.7,344.0 L461.2,345.3 L462.7,346.5 L464.3,347.8 L465.8,349.0 L467.4,350.3 L468.9,351.6 L470.5,352.8 L472.0,354.1 L473.5,355.3 L475.1,356.6 L476.6,357.8 L478.2,359.1 L479.7,360.3 L481.3,361.6 L482.8,362.8 L484.4,364.1 L486.0,365.3 L487.5,366.6 L489.1,367.8 L490.6,369.0 L492.2,370.3 L493.8,371.5 L495.3,372.7 L496.9,374.0 L498.5,375.2 L500.0,376.4 L501.6,377.7 L503.2,378.9 L504.8,380.1 L506.3,381.4 L507.9,382.6 L509.5,383.8 L511.1,385.0 L512.7,386.2 L514.3,387.4 L515.8,388.7 L517.4,389.9 L519.0,391.1 L520.6,392.3 L522.2,393.5 L523.8,394.7 L525.4,395.9 L527.0,397.1 L528.6,398.3 L530.2,399.5 L531.8,400.7 L533.4,401.8 L535.1,403.0 L536.7,404.2 L538.3,405.4 L539.9,406.6 L541.5,407.7 L543.1,408.9 L544.8,410.1 L546.4,411.3 L548.0,412.4 L549.6,413.6 L551.3,414.7 L552.9,415.9 L554.5,417.0 L556.2,418.2 L557.8,419.3 L559.5,420.5 L561.1,421.6 L562.7,422.8 L564.4,423.9 L566.0,425.0 L567.7,426.2 L569.3,427.3 L571.0,428.4 L572.7,429.5 L574.3,430.6 L576.0,431.8 L577.6,432.9 L579.3,434.0 L581.0,435.1 L582.6,436.2 L584.3,437.3 L586.0,438.4 L587.7,439.5 L589.3,440.5 L591.0,441.6 L592.7,442.7 L594.4,443.8 L596.1,444.8 L597.8,445.9 L599.5,447.0 L601.2,448.0 L602.9,449.1 L604.5,450.1 L606.3,451.2 L608.0,452.2 L609.7,453.3 L611.4,454.3 L613.1,455.3 L614.8,456.4 L616.5,457.4 L618.2,458.4 L619.9,459.4 L621.7,460.4 L623.4,461.4 L625.1,462.4 L626.8,463.4 L628.6,464.4 L630.3,465.4 L632.0,466.4 L633.8,467.4 L635.5,468.3 L637.3,469.3 L639.0,470.3 L640.8,471.2 L642.5,472.2 L644.3,473.1 L646.0,474.1 L647.8,475.0 L649.5,476.0 L651.3,476.9 L653.1,477.8 L654.8,478.8 L656.6,479.7 L658.4,480.6 L660.1,481.5 L661.9,482.4 L663.7,483.3 L665.5,484.2 L667.3,485.1 L669.0,485.9 L670.8,486.8 L672.6,487.7 L674.4,488.6 L676.2,489.4 L678.0,490.3 L679.8,491.1 L681.6,492.0 L683.4,492.8 L685.3,493.6 L687.1,494.5 L688.9,495.3 L690.7,496.1 L692.5,496.9 L694.3,497.7 L696.2,498.5 L698.0,499.3 L699.8,500.1 L701.7,500.9 L703.5,501.7 L705.4,502.4 L707.2,503.2 L709.0,503.9 L710.9,504.7 L712.7,505.4 L714.6,506.2 L716.5,506.9 L718.3,507.6 L720.2,508.4 L722.0,509.1 L723.9,509.8 L725.8,510.5 L727.7,511.2 L729.5,511.9 L731.4,512.6 L733.3,513.2 L735.2,513.9 L737.1,514.6 L739.0,515.2 L740.9,515.9 L742.8,516.5 L744.7,517.2 L746.6,517.8 L748.5,518.4 L750.4,519.0 L752.3,519.6 L754.2,520.3 L756.1,520.8 L758.0,521.4 L760.0,522.0 L761.9,522.6 L763.8,523.2 L765.8,523.7 L767.7,524.3 L769.6,524.8 L771.6,525.4 L773.5,525.9 L775.5,526.4 L777.4,527.0 L779.4,527.5 L781.3,528.0 L783.3,528.5 L785.3,529.0 L787.2,529.4 L789.2,529.9 L791.2,530.4 L792.0,530.6" stroke="#ff0000" stroke-dasharray="6.5 7.3 0.9 7.3 0.9 7.3"/>
<path d="M128.8,549.8 L130.3,548.4 L131.8,547.1 L133.3,545.7 L134.8,544.4 L136.3,543.0 L137.8,541.7 L139.3,540.3 L140.8,539.0 L142.3,537.6 L143.8,536.3 L145.3,535.0 L146.8,533.6 L148.3,532.3 L149.8,530.9 L151.3,529.6 L152.7,528.2 L154.2,526.9 L155.6,525.5 L157.1,524.1 L158.5,522.7 L160.0,521.4 L161.4,520.0 L162.8,518.6 L164.2,517.2 L165.6,515.8 L167.0,514.4 L168.4,513.0 L169.8,511.5 L171.1,510.1 L172.5,508.6 L173.8,507.2 L175.1,505.7 L176.5,504.2 L177.8,502.7 L179.0,501.2 L180.3,499.7 L181.6,498.2 L182.8,496.6 L184.0,495.1 L185.3,493.5 L186.5,491.9 L187.7,490.4 L188.9,488.8 L190.0,487.2 L191.2,485.6 L192.4,484.0 L193.5,482.3 L194.7,480.7 L195.8,479.1 L196.9,477.4 L198.1,475.8 L199.2,474.1 L200.3,472.5 L201.4,470.8 L202.5,469.2 L203.6,467.5 L204.7,465.8 L205.8,464.2 L206.9,462.5 L208.0,460.8 L209.1,459.1 L210.2,457.5 L211.3,455.8 L212.4,454.1 L213.5,452.5 L214.6,450.8 L215.7,449.1 L216.8,447.5 L217.9,445.8 L219.0,444.2 L220.1,442.5 L221.2,440.9 L222.3,439.2 L223.4,437.6 L224.6,435.9 L225.7,434.3 L226.9,432.7 L228.0,431.0 L229.2,429.4 L230.3,427.8 L231.5,426.2 L232.7,424.6 L233.9,423.0 L235.1,421.4 L236.3,419.8 L237.5,418.2 L238.8,416.6 L240.0,415.0 L241.3,413.4 L242.6,411.9 L243.9,410.3 L245.2,408.7 L246.5,407.2 L247.8,405.6 L249.2,404.1 L250.6,402.6 L251.9,401.1 L253.3,399.6 L254.8,398.1 L256.2,396.6 L257.7,395.2 L259.1,393.8 L260.6,392.5 L262.2,391.2 L263.7,389.9 L265.2,388.7 L266.8,387.5 L268.4,386.4 L270.1,385.3 L271.7,384.3 L273.4,383.4 L275.1,382.5 L276.8,381.7 L278.5,380.9 L280.3,380.3 L282.1,379.7 L283.9,379.1 L285.7,378.6 L287.5,378.1 L289.4,377.7 L291.3,377.4 L293.2,377.1 L295.1,376.9 L297.0,376.7 L299.0,376.5 L300.9,376.4 L302.9,376.3 L304.9,376.2 L306.8,376.2 L308.8,376.2 L310.9,376.3 L312.9,376.4 L314.9,376.5 L316.9,376.6 L319.0,376.7 L321.0,376.9 L323.1,377.1 L325.1,377.3 L327.2,377.5 L329.3,377.8 L331.3,378.0 L333.4,378.3 L335.4,378.5 L337.5,378.8 L339.6,379.1 L341.6,379.4 L343.7,379.7 L345.7,379.9 L347.8,380.2 L349.8,380.5 L351.9,380.7 L353.9,381.0 L356.0,381.3 L358.0,381.5 L360.0,381.8 L362.1,382.0 L364.1,382.3 L366.1,382.5 L368.1,382.8 L370.1,383.0 L372.1,383.3 L374.1,383.5 L376.1,383.7 L378.1,384.0 L380.1,384.2 L382.1,384.4 L384.1,384.7 L386.1,384.9 L388.1,385.1 L390.1,385.3 L392.1,385.6 L394.1,385.8 L396.0,386.0 L398.0,386.2 L400.0,386.4 L402.0,386.7 L403.9,386.9 L405.9,387.1 L407.9,387.3 L409.9,387.5 L411.8,387.7 L413.8,387.9 L415.8,388.1 L417.7,388.3 L419.7,388.5 L421.7,388.7 L423.6,388.9 L425.6,389.1 L427.6,389.3 L429.5,389.5 L431.5,389.7 L433.4,389.9 L435.4,390.2 L437.4,390.4 L439.3,390.6 L441.3,390.8 L443.3,391.0 L445.2,391.2 L447.2,391.4 L449.2,391.6 L451.1,391.8 L453.1,392.0 L455.1,392.2 L457.0,392.4 L459.0,392.6 L461.0,392.8 L462.9,393.0 L464.9,393.2 L466.9,393.4 L468.9,393.6 L470.8,393.8 L472.8,394.0 L474.8,394.2 L476.7,394.5 L478.7,394.7 L480.7,394.9 L482.7,395.1 L484.7,395.3 L486.6,395.5 L488.6,395.7 L490.6,395.9 L492.6,396.1 L494.5,396.3 L496.5,396.6 L498.5,396.8 L500.5,397.0 L502.5,397.2 L504.4,397.4 L506.4,397.6 L508.4,397.8 L510.4,398.0 L512.4,398.3 L514.4,398.5 L516.3,398.7 L518.3,398.9 L520.3,399.1 L522.3,399.3 L524.3,399.6 L526.3,399.8 L528.3,400.0 L530.2,400.2 L532.2,400.4 L534.2,400.6 L536.2,400.9 L538.2,401.1 L540.2,401.3 L542.2,401.5 L544.2,401.7 L546.2,402.0 L548.1,402.2 L550.1,402.4 L552.1,402.6 L554.1,402.9 L556.1,403.1 L558.1,403.3 L560.1,403.5 L562.1,403.7 L564.1,404.0 L566.1,404.2 L568.0,404.4 L570.0,404.6 L572.0,404.9 L574.0,405.1 L576.0,405.3 L578.0,405.6 L580.0,405.8 L582.0,406.0 L584.0,406.2 L586.0,406.5 L588.0,406.7 L590.0,406.9 L592.0,407.2 L594.0,407.4 L596.0,407.6 L597.9,407.8 L599.9,408.1 L601.9,408.3 L603.9,408.5 L605.9,408.8 L607.9,409.0 L609.9,409.2 L611.9,409.5 L613.9,409.7 L615.9,409.9 L617.9,410.2 L619.9,410.4 L621.9,410.6 L623.9,410.9 L625.9,411.1 L627.9,411.3 L629.9,411.6 L631.8,411.8 L633.8,412.1 L635.8,412.3 L637.8,412.5 L639.8,412.8 L641.8,413.0 L643.8,413.2 L645.8,413.5 L647.8,413.7 L649.8,414.0 L651.8,414.2 L653.8,414.4 L655.8,414.7 L657.8,414.9 L659.8,415.2 L661.8,415.4 L663.7,415.6 L665.7,415.9 L667.7,416.1 L669.7,416.4 L671.7,416.6 L673.7,416.9 L675.7,417.1 L677.7,417.4 L679.7,417.6 L681.7,417.8 L683.7,418.1 L685.6,418.3 L687.6,418.6 L689.6,418.8 L691.6,419.1 L693.6,419.3 L695.6,419.6 L697.6,419.8 L699.6,420.1 L701.6,420.3 L703.5,420.6 L705.5,420.8 L707.5,421.1 L709.5,421.3 L711.5,421.6 L713.5,421.8 L715.5,422.1 L717.4,422.3 L719.4,422.6 L721.4,422.8 L723.4,423.1 L725.4,423.3 L727.4,423.6 L729.3,423.9 L731.3,424.1 L733.3,424.4 L735.3,424.6 L737.3,424.9 L739.3,425.1 L741.2,425.4 L743.2,425.6 L745.2,425.9 L747.2,426.2 L749.2,426.4 L751.1,426.7 L753.1,426.9 L755.1,427.2 L757.1,427.5 L759.0,427.7 L761.0,428.0 L763.0,428.2 L765.0,428.5 L766.9,428.8 L768.9,429.0 L770.9,429.3 L772.8,429.5 L774.8,429.8 L776.8,430.1 L778.8,430.3 L780.7,430.6 L782.7,430.9 L784.7,431.1 L786.6,431.4 L788.6,431.7 L790.6,431.9 L792.0,432.1" stroke="#0000ff"/>
<path d="M128.8,549.8 L130.0,548.2 L131.2,546.7 L132.4,545.1 L133.6,543.5 L134.8,542.0 L136.0,540.4 L137.2,538.8 L138.4,537.2 L139.6,535.6 L140.8,534.1 L142.0,532.5 L143.3,530.9 L144.5,529.3 L145.7,527.7 L146.9,526.1 L148.1,524.5 L149.3,523.0 L150.6,521.4 L151.8,519.8 L153.0,518.2 L154.2,516.6 L155.4,514.9 L156.6,513.3 L157.8,511.7 L159.0,510.1 L160.2,508.5 L161.4,506.9 L162.6,505.3 L163.8,503.6 L165.0,502.0 L166.2,500.4 L167.4,498.7 L168.6,497.1 L169.7,495.5 L170.9,493.8 L172.1,492.2 L173.2,490.5 L174.4,488.9 L175.5,487.2 L176.6,485.6 L177.8,483.9 L178.9,482.2 L180.0,480.6 L181.1,478.9 L182.2,477.2 L183.3,475.6 L184.3,473.9 L185.4,472.2 L186.5,470.5 L187.5,468.8 L188.6,467.1 L189.6,465.4 L190.6,463.7 L191.6,462.0 L192.6,460.3 L193.6,458.6 L194.6,456.9 L195.6,455.1 L196.6,453.4 L197.6,451.7 L198.5,450.0 L199.5,448.2 L200.5,446.5 L201.4,444.8 L202.4,443.1 L203.3,441.3 L204.3,439.6 L205.2,437.9 L206.2,436.1 L207.1,434.4 L208.1,432.6 L209.0,430.9 L210.0,429.2 L210.9,427.4 L211.9,425.7 L212.9,424.0 L213.8,422.2 L214.8,420.5 L215.8,418.8 L216.7,417.0 L217.7,415.3 L218.7,413.6 L219.7,411.8 L220.7,410.1 L221.7,408.4 L222.7,406.7 L223.8,404.9 L224.8,403.2 L225.9,401.5 L226.9,399.8 L228.0,398.1 L229.1,396.4 L230.1,394.7 L231.2,393.0 L232.4,391.3 L233.5,389.6 L234.6,387.9 L235.8,386.2 L236.9,384.5 L238.1,382.8 L239.3,381.2 L240.5,379.5 L241.8,377.8 L243.0,376.2 L244.3,374.5 L245.6,372.9 L246.9,371.2 L248.2,369.6 L249.6,368.1 L250.9,366.5 L252.3,365.0 L253.7,363.5 L255.2,362.1 L256.6,360.7 L258.1,359.4 L259.7,358.1 L261.2,356.9 L262.8,355.7 L264.4,354.7 L266.0,353.7 L267.7,352.8 L269.4,351.9 L271.1,351.2 L272.9,350.5 L274.6,349.9 L276.4,349.4 L278.3,348.9 L280.1,348.5 L281.9,348.2 L283.8,348.0 L285.7,347.8 L287.6,347.8 L289.5,347.7 L291.4,347.8 L293.3,347.9 L295.2,348.1 L297.1,348.3 L299.0,348.6 L300.9,349.0 L302.8,349.4 L304.7,349.8 L306.6,350.4 L308.5,350.9 L310.4,351.5 L312.4,352.2 L314.3,352.8 L316.2,353.5 L318.1,354.3 L320.0,355.0 L321.9,355.8 L323.8,356.6 L325.7,357.5 L327.6,358.3 L329.5,359.1 L331.5,360.0 L333.4,360.8 L335.3,361.6 L337.2,362.5 L339.1,363.3 L341.0,364.1 L342.9,364.9 L344.8,365.6 L346.7,366.4 L348.7,367.1 L350.6,367.8 L352.5,368.5 L354.4,369.2 L356.3,369.8 L358.2,370.4 L360.1,371.0 L362.1,371.6 L364.0,372.2 L365.9,372.8 L367.8,373.3 L369.7,373.8 L371.6,374.4 L373.5,374.9 L375.5,375.4 L377.4,375.9 L379.3,376.4 L381.2,376.9 L383.1,377.3 L385.1,377.8 L387.0,378.3 L388.9,378.8 L390.8,379.2 L392.7,379.7 L394.7,380.2 L396.6,380.7 L398.5,381.1 L400.4,381.6 L402.4,382.1 L404.3,382.6 L406.2,383.1 L408.1,383.6 L410.1,384.1 L412.0,384.6 L413.9,385.1 L415.9,385.6 L417.8,386.1 L419.7,386.6 L421.6,387.1 L423.6,387.6 L425.5,388.1 L427.4,388.6 L429.4,389.1 L431.3,389.7 L433.2,390.2 L435.2,390.7 L437.1,391.2 L439.0,391.7 L441.0,392.2 L442.9,392.8 L444.8,393.3 L446.8,393.8 L448.7,394.3 L450.7,394.9 L452.6,395.4 L454.5,395.9 L456.5,396.4 L458.4,396.9 L460.4,397.5 L462.3,398.0 L464.2,398.5 L466.2,399.0 L468.1,399.5 L470.1,400.0 L472.0,400.6 L474.0,401.1 L475.9,401.6 L477.9,402.1 L479.8,402.6 L481.7,403.1 L483.7,403.6 L485.6,404.1 L487.6,404.6 L489.5,405.1 L491.5,405.6 L493.4,406.1 L495.4,406.6 L497.3,407.1 L499.3,407.6 L501.2,408.0 L503.2,408.5 L505.1,409.0 L507.1,409.5 L509.0,409.9 L511.0,410.4 L513.0,410.9 L514.9,411.3 L516.9,411.8 L518.8,412.2 L520.8,412.7 L522.7,413.1 L524.7,413.6 L526.6,414.0 L528.6,414.4 L530.6,414.8 L532.5,415.3 L534.5,415.7 L536.4,416.1 L538.4,416.5 L540.4,416.9 L542.3,417.3 L544.3,417.7 L546.2,418.1 L548.2,418.4 L550.2,418.8 L552.1,419.2 L554.1,419.5 L556.1,419.9 L558.0,420.2 L560.0,420.6 L561.9,420.9 L563.9,421.2 L565.9,421.6 L567.8,421.9 L569.8,422.2 L571.8,422.5 L573.7,422.8 L575.7,423.1 L577.7,423.4 L579.6,423.7 L581.6,424.0 L583.6,424.3 L585.5,424.6 L587.5,424.8 L589.5,425.1 L591.5,425.4 L593.4,425.6 L595.4,425.9 L597.4,426.1 L599.3,426.4 L601.3,426.6 L603.3,426.9 L605.3,427.1 L607.2,427.3 L609.2,427.6 L611.2,427.8 L613.1,428.0 L615.1,428.3 L617.1,428.5 L619.1,428.7 L621.0,428.9 L623.0,429.1 L625.0,429.3 L627.0,429.6 L629.0,429.8 L630.9,430.0 L632.9,430.2 L634.9,430.4 L636.9,430.6 L638.8,430.8 L640.8,431.0 L642.8,431.2 L644.8,431.3 L646.8,431.5 L648.7,431.7 L650.7,431.9 L652.7,432.1 L654.7,432.3 L656.7,432.5 L658.6,432.7 L660.6,432.8 L662.6,433.0 L664.6,433.2 L666.6,433.4 L668.5,433.6 L670.5,433.8 L672.5,433.9 L674.5,434.1 L676.5,434.3 L678.5,434.5 L680.4,434.7 L682.4,434.9 L684.4,435.1 L686.4,435.2 L688.4,435.4 L690.4,435.6 L692.4,435.8 L694.3,436.0 L696.3,436.2 L698.3,436.4 L700.3,436.6 L702.3,436.8 L704.3,437.0 L706.3,437.2 L708.2,437.3 L710.2,437.6 L712.2,437.8 L714.2,438.0 L716.2,438.2 L718.2,438.4 L720.2,438.6 L722.2,438.8 L724.2,439.0 L726.1,439.2 L728.1,439.5 L730.1,439.7 L732.1,439.9 L734.1,440.1 L736.1,440.4 L738.1,440.6 L740.1,440.9 L742.1,441.1 L744.1,441.3 L746.0,441.6 L748.0,441.9 L750.0,442.1 L752.0,442.4 L754.0,442.6 L756.0,442.9 L758.0,443.2 L760.0,443.5 L762.0,443.7 L764.0,444.0 L766.0,444.3 L768.0,444.6 L770.0,444.9 L771.9,445.2 L773.9,445.5 L775.9,445.9 L777.9,446.2 L779.9,446.5 L781.9,446.8 L783.9,447.2 L785.9,447.5 L787.9,447.9 L789.9,448.2 L791.9,448.6 L792.0,448.7" stroke="#0000ff" stroke-dasharray="7.8 12.16"/>
<path d="M128.8,549.8 L130.6,548.9 L132.4,548.0 L134.1,547.0 L135.9,546.1 L137.6,545.1 L139.4,544.1 L141.1,543.1 L142.8,542.1 L144.5,541.0 L146.2,540.0 L147.9,538.9 L149.6,537.8 L151.2,536.7 L152.9,535.6 L154.5,534.4 L156.1,533.3 L157.8,532.1 L159.4,530.9 L161.0,529.7 L162.5,528.4 L164.1,527.2 L165.7,525.9 L167.2,524.7 L168.7,523.4 L170.2,522.1 L171.8,520.8 L173.2,519.5 L174.7,518.1 L176.2,516.8 L177.7,515.4 L179.1,514.0 L180.5,512.6 L182.0,511.2 L183.4,509.8 L184.8,508.4 L186.1,506.9 L187.5,505.5 L188.9,504.0 L190.2,502.5 L191.5,501.0 L192.8,499.5 L194.1,498.0 L195.4,496.5 L196.7,495.0 L198.0,493.4 L199.2,491.9 L200.5,490.3 L201.7,488.8 L202.9,487.2 L204.1,485.6 L205.3,484.0 L206.4,482.4 L207.6,480.8 L208.7,479.1 L209.9,477.5 L211.0,475.9 L212.1,474.2 L213.3,472.6 L214.4,470.9 L215.5,469.3 L216.6,467.6 L217.7,466.0 L218.8,464.3 L219.9,462.6 L221.0,460.9 L222.1,459.3 L223.2,457.6 L224.3,455.9 L225.4,454.2 L226.5,452.5 L227.6,450.8 L228.7,449.2 L229.8,447.5 L230.9,445.8 L232.1,444.1 L233.2,442.4 L234.4,440.8 L235.5,439.1 L236.7,437.4 L237.9,435.8 L239.1,434.2 L240.3,432.6 L241.5,430.9 L242.7,429.4 L244.0,427.8 L245.3,426.2 L246.6,424.7 L247.9,423.2 L249.2,421.7 L250.5,420.2 L251.9,418.7 L253.3,417.3 L254.7,415.9 L256.1,414.5 L257.6,413.2 L259.0,411.9 L260.5,410.6 L262.0,409.3 L263.6,408.1 L265.2,406.9 L266.7,405.8 L268.4,404.7 L270.0,403.6 L271.7,402.5 L273.3,401.5 L275.0,400.5 L276.8,399.6 L278.5,398.7 L280.3,397.8 L282.0,397.0 L283.8,396.2 L285.6,395.4 L287.5,394.7 L289.3,394.0 L291.1,393.4 L293.0,392.8 L294.9,392.2 L296.7,391.6 L298.6,391.1 L300.5,390.6 L302.4,390.2 L304.3,389.8 L306.2,389.4 L308.1,389.0 L310.1,388.7 L312.0,388.4 L313.9,388.1 L315.9,387.9 L317.8,387.6 L319.7,387.4 L321.7,387.2 L323.7,387.1 L325.6,386.9 L327.6,386.8 L329.6,386.7 L331.6,386.6 L333.5,386.5 L335.5,386.4 L337.5,386.4 L339.5,386.3 L341.5,386.3 L343.5,386.2 L345.5,386.2 L347.5,386.2 L349.5,386.2 L351.6,386.2 L353.6,386.2 L355.6,386.2 L357.6,386.2 L359.6,386.2 L361.7,386.2 L363.7,386.2 L365.7,386.2 L367.8,386.2 L369.8,386.3 L371.8,386.3 L373.9,386.3 L375.9,386.4 L377.9,386.4 L380.0,386.5 L382.0,386.5 L384.1,386.6 L386.1,386.6 L388.1,386.7 L390.2,386.7 L392.2,386.8 L394.2,386.9 L396.3,386.9 L398.3,387.0 L400.3,387.0 L402.4,387.1 L404.4,387.2 L406.4,387.2 L408.5,387.3 L410.5,387.4 L412.5,387.4 L414.5,387.5 L416.6,387.6 L418.6,387.6 L420.6,387.7 L422.6,387.8 L424.7,387.8 L426.7,387.9 L428.7,388.0 L430.7,388.1 L432.7,388.1 L434.8,388.2 L436.8,388.3 L438.8,388.4 L440.8,388.5 L442.8,388.5 L444.8,388.6 L446.8,388.7 L448.9,388.8 L450.9,388.9 L452.9,389.0 L454.9,389.1 L456.9,389.1 L458.9,389.2 L460.9,389.3 L462.9,389.4 L464.9,389.5 L466.9,389.6 L468.9,389.7 L471.0,389.8 L473.0,389.9 L475.0,390.0 L477.0,390.1 L479.0,390.2 L481.0,390.3 L483.0,390.4 L485.0,390.5 L487.0,390.6 L489.0,390.7 L491.0,390.8 L493.0,390.9 L495.0,391.1 L497.0,391.2 L499.0,391.3 L500.9,391.4 L502.9,391.5 L504.9,391.6 L506.9,391.7 L508.9,391.9 L510.9,392.0 L512.9,392.1 L514.9,392.2 L516.9,392.3 L518.9,392.5 L520.9,392.6 L522.9,392.7 L524.9,392.9 L526.8,393.0 L528.8,393.1 L530.8,393.2 L532.8,393.4 L534.8,393.5 L536.8,393.7 L538.8,393.8 L540.8,393.9 L542.7,394.1 L544.7,394.2 L546.7,394.4 L548.7,394.5 L550.7,394.6 L552.7,394.8 L554.6,394.9 L556.6,395.1 L558.6,395.2 L560.6,395.4 L562.6,395.5 L564.6,395.7 L566.5,395.9 L568.5,396.0 L570.5,396.2 L572.5,396.3 L574.5,396.5 L576.4,396.7 L578.4,396.8 L580.4,397.0 L582.4,397.2 L584.4,397.3 L586.3,397.5 L588.3,397.7 L590.3,397.8 L592.3,398.0 L594.3,398.2 L596.2,398.4 L598.2,398.5 L600.2,398.7 L602.2,398.9 L604.1,399.1 L606.1,399.3 L608.1,399.5 L610.1,399.6 L612.1,399.8 L614.0,400.0 L616.0,400.2 L618.0,400.4 L620.0,400.6 L621.9,400.8 L623.9,401.0 L625.9,401.2 L627.9,401.4 L629.8,401.6 L631.8,401.8 L633.8,402.0 L635.8,402.2 L637.7,402.4 L639.7,402.6 L641.7,402.9 L643.7,403.1 L645.7,403.3 L647.6,403.5 L649.6,403.7 L651.6,403.9 L653.6,404.2 L655.5,404.4 L657.5,404.6 L659.5,404.8 L661.5,405.1 L663.4,405.3 L665.4,405.5 L667.4,405.8 L669.4,406.0 L671.4,406.2 L673.3,406.5 L675.3,406.7 L677.3,407.0 L679.3,407.2 L681.2,407.4 L683.2,407.7 L685.2,407.9 L687.2,408.2 L689.2,408.4 L691.1,408.7 L693.1,408.9 L695.1,409.2 L697.1,409.5 L699.1,409.7 L701.0,410.0 L703.0,410.2 L705.0,410.5 L707.0,410.8 L709.0,411.1 L710.9,411.3 L712.9,411.6 L714.9,411.9 L716.9,412.1 L718.9,412.4 L720.9,412.7 L722.8,413.0 L724.8,413.3 L726.8,413.6 L728.8,413.8 L730.8,414.1 L732.8,414.4 L734.7,414.7 L736.7,415.0 L738.7,415.3 L740.7,415.6 L742.7,415.9 L744.7,416.2 L746.7,416.5 L748.7,416.8 L750.6,417.1 L752.6,417.4 L754.6,417.7 L756.6,418.1 L758.6,418.4 L760.6,418.7 L762.6,419.0 L764.6,419.3 L766.6,419.7 L768.6,420.0 L770.6,420.3 L772.6,420.6 L774.6,421.0 L776.5,421.3 L778.5,421.6 L780.5,422.0 L782.5,422.3 L784.5,422.6 L786.5,423.0 L788.5,423.3 L790.5,423.7 L792.0,424.0" stroke="#0000ff" stroke-dasharray="6.5 7.3 0.9 7.3 0.9 7.3"/>
<path d="M128.9,370.4 L130.9,370.3 L132.9,370.2 L134.9,370.1 L136.9,370.0 L138.9,370.0 L140.9,369.9 L142.9,369.8 L145.0,369.8 L147.0,369.7 L149.0,369.7 L151.0,369.6 L153.0,369.6 L155.0,369.6 L157.0,369.5 L159.0,369.5 L161.0,369.5 L163.0,369.5 L165.0,369.5 L167.0,369.5 L169.0,369.5 L171.0,369.5 L173.0,369.5 L175.0,369.5 L177.0,369.5 L179.0,369.5 L181.0,369.6 L183.0,369.6 L185.0,369.7 L187.0,369.7 L189.0,369.7 L191.0,369.8 L193.0,369.9 L195.0,369.9 L197.0,370.0 L199.0,370.1 L201.0,370.1 L203.0,370.2 L205.0,370.3 L207.0,370.4 L209.0,370.5 L210.9,370.6 L212.9,370.7 L214.9,370.8 L216.9,370.9 L218.9,371.0 L220.9,371.1 L222.9,371.2 L224.9,371.4 L226.9,371.5 L228.9,371.6 L230.9,371.8 L232.9,371.9 L234.9,372.0 L236.8,372.2 L238.8,372.3 L240.8,372.5 L242.8,372.7 L244.8,372.8 L246.8,373.0 L248.8,373.1 L250.8,373.3 L252.8,373.5 L254.7,373.7 L256.7,373.9 L258.7,374.0 L260.7,374.2 L262.7,374.4 L264.7,374.6 L266.7,374.8 L268.7,375.0 L270.6,375.2 L272.6,375.4 L274.6,375.6 L276.6,375.8 L278.6,376.1 L280.6,376.3 L282.6,376.5 L284.5,376.7 L286.5,377.0 L288.5,377.2 L290.5,377.4 L292.5,377.7 L294.5,377.9 L296.4,378.1 L298.4,378.4 L300.4,378.6 L302.4,378.9 L304.4,379.1 L306.4,379.4 L308.3,379.6 L310.3,379.9 L312.3,380.2 L314.3,380.4 L316.3,380.7 L318.2,381.0 L320.2,381.2 L322.2,381.5 L324.2,381.8 L326.2,382.0 L328.1,382.3 L330.1,382.6 L332.1,382.9 L334.1,383.2 L336.1,383.5 L338.0,383.7 L340.0,384.0 L342.0,384.3 L344.0,384.6 L345.9,384.9 L347.9,385.2 L349.9,385.5 L351.9,385.8 L353.9,386.1 L355.8,386.4 L357.8,386.7 L359.8,387.0 L361.8,387.3 L363.7,387.6 L365.7,388.0 L367.7,388.3 L369.7,388.6 L371.6,388.9 L373.6,389.2 L375.6,389.5 L377.6,389.8 L379.6,390.2 L381.5,390.5 L383.5,390.8 L385.5,391.1 L387.5,391.5 L389.4,391.8 L391.4,392.1 L393.4,392.4 L395.4,392.8 L397.3,393.1 L399.3,393.4 L401.3,393.7 L403.3,394.1 L405.2,394.4 L407.2,394.7 L409.2,395.1 L411.1,395.4 L413.1,395.7 L415.1,396.1 L417.1,396.4 L419.0,396.7 L421.0,397.1 L423.0,397.4 L425.0,397.7 L426.9,398.1 L428.9,398.4 L430.9,398.7 L432.9,399.1 L434.8,399.4 L436.8,399.8 L438.8,400.1 L440.7,400.4 L442.7,400.8 L444.7,401.1 L446.7,401.4 L448.6,401.8 L450.6,402.1 L452.6,402.5 L454.6,402.8 L456.5,403.1 L458.5,403.5 L460.5,403.8 L462.4,404.2 L464.4,404.5 L466.4,404.8 L468.4,405.2 L470.3,405.5 L472.3,405.8 L474.3,406.2 L476.2,406.5 L478.2,406.9 L480.2,407.2 L482.2,407.5 L484.1,407.9 L486.1,408.2 L488.1,408.6 L490.0,408.9 L492.0,409.2 L494.0,409.6 L496.0,409.9 L497.9,410.3 L499.9,410.6 L501.9,410.9 L503.8,411.3 L505.8,411.6 L507.8,411.9 L509.8,412.3 L511.7,412.6 L513.7,413.0 L515.7,413.3 L517.6,413.6 L519.6,414.0 L521.6,414.3 L523.6,414.6 L525.5,415.0 L527.5,415.3 L529.5,415.6 L531.5,416.0 L533.4,416.3 L535.4,416.6 L537.4,417.0 L539.3,417.3 L541.3,417.6 L543.3,418.0 L545.3,418.3 L547.2,418.6 L549.2,419.0 L551.2,419.3 L553.1,419.6 L555.1,420.0 L557.1,420.3 L559.1,420.6 L561.0,420.9 L563.0,421.3 L565.0,421.6 L567.0,421.9 L568.9,422.2 L570.9,422.6 L572.9,422.9 L574.8,423.2 L576.8,423.5 L578.8,423.9 L580.8,424.2 L582.7,424.5 L584.7,424.8 L586.7,425.1 L588.7,425.5 L590.6,425.8 L592.6,426.1 L594.6,426.4 L596.6,426.7 L598.5,427.0 L600.5,427.4 L602.5,427.7 L604.5,428.0 L606.4,428.3 L608.4,428.6 L610.4,428.9 L612.4,429.2 L614.3,429.5 L616.3,429.8 L618.3,430.1 L620.3,430.4 L622.2,430.8 L624.2,431.1 L626.2,431.4 L628.2,431.7 L630.1,432.0 L632.1,432.3 L634.1,432.6 L636.1,432.9 L638.0,433.2 L640.0,433.4 L642.0,433.7 L644.0,434.0 L646.0,434.3 L647.9,434.6 L649.9,434.9 L651.9,435.2 L653.9,435.5 L655.8,435.8 L657.8,436.1 L659.8,436.3 L661.8,436.6 L663.8,436.9 L665.7,437.2 L667.7,437.5 L669.7,437.7 L671.7,438.0 L673.7,438.3 L675.6,438.6 L677.6,438.8 L679.6,439.1 L681.6,439.4 L683.6,439.6 L685.5,439.9 L687.5,440.2 L689.5,440.4 L691.5,440.7 L693.5,441.0 L695.5,441.2 L697.4,441.5 L699.4,441.7 L701.4,442.0 L703.4,442.3 L705.4,442.5 L707.4,442.8 L709.3,443.0 L711.3,443.3 L713.3,443.5 L715.3,443.8 L717.3,444.0 L719.3,444.2 L721.2,444.5 L723.2,444.7 L725.2,445.0 L727.2,445.2 L729.2,445.4 L731.2,445.7 L733.2,445.9 L735.1,446.1 L737.1,446.4 L739.1,446.6 L741.1,446.8 L743.1,447.0 L745.1,447.3 L747.1,447.5 L749.1,447.7 L751.1,447.9 L753.0,448.1 L755.0,448.3 L757.0,448.5 L759.0,448.7 L761.0,449.0 L763.0,449.2 L765.0,449.4 L767.0,449.6 L769.0,449.8 L771.0,450.0 L772.9,450.2 L774.9,450.4 L776.9,450.5 L778.9,450.7 L780.9,450.9 L782.9,451.1 L784.9,451.3 L786.9,451.5 L788.9,451.7 L790.9,451.8 L792.0,451.9" stroke="#ff8000"/>
</g>
<g font-family="Liberation Sans, sans-serif" font-size="19.7" fill="#000">
<text x="128.5" y="576.8" text-anchor="middle">-1000</text>
<text x="211.4" y="576.8" text-anchor="middle">-500</text>
<text x="294.4" y="576.8" text-anchor="middle">0</text>
<text x="377.3" y="576.8" text-anchor="middle">500</text>
<text x="460.2" y="576.8" text-anchor="middle">1000</text>
<text x="543.2" y="576.8" text-anchor="middle">1500</text>
<text x="626.1" y="576.8" text-anchor="middle">2000</text>
<text x="709.1" y="576.8" text-anchor="middle">2500</text>
<text x="792.0" y="576.8" text-anchor="middle">3000</text>
<text x="118.8" y="556.6" text-anchor="end">0,0000</text>
<text x="118.8" y="387.2" text-anchor="end">0,0003</text>
<text x="118.8" y="217.8" text-anchor="end">0,0006</text>
<text x="118.8" y="48.4" text-anchor="end">0,0009</text>
</g>
<g font-family="Liberation Sans, sans-serif" fill="#000">
<text x="406" y="611.5" font-size="23.2">Q<tspan font-size="14.3" dy="8.5" dx="1">sat</tspan><tspan dy="-8.5" dx="2"> (MeV)</tspan></text>
<text transform="translate(32.6,284) rotate(-90)" text-anchor="middle" font-size="23.7">PDF</text>
<text x="135.3" y="69.2" font-size="23.3">(b)</text>
<text x="791" y="284" font-size="19.2" font-weight="bold" text-anchor="end">Prior set #2</text>
</g>
<g fill="none" stroke-linecap="round" stroke-width="2.3">
<path d="M434,60.5 H482.4" stroke="#ff0000"/>
<path d="M434,89.7 H482.4" stroke="#ff0000" stroke-dasharray="7.8 12"/>
<path d="M434,119.0 H482.4" stroke="#ff0000" stroke-dasharray="6.5 7.3 0.9 7.3 0.9 7.3"/>
<path d="M434,145.4 H482.4" stroke="#0000ff"/>
<path d="M434,171.8 H482.4" stroke="#0000ff" stroke-dasharray="7.8 12.16"/>
<path d="M434,198.7 H482.4" stroke="#0000ff" stroke-dasharray="6.5 7.3 0.9 7.3 0.9 7.3"/>
<path d="M434,227.5 H482.4" stroke="#ff8000"/>
<path d="M434,254.4 H482.4" stroke="#ff80ff" stroke-dasharray="7.8 12.1"/>
</g>
<g font-family="Liberation Sans, sans-serif" font-size="22" fill="#000">
<text x="488.4" y="67.8">TD-LVC-2018+<tspan font-family="Liberation Serif, serif" font-size="23" letter-spacing="0.8">χ</tspan>EFT+GMR</text>
<text x="488.4" y="97.0"><tspan letter-spacing="-0.18">TD-De-2018</tspan>+<tspan font-family="Liberation Serif, serif" font-size="23" letter-spacing="0.8">χ</tspan>EFT+GMR</text>
<text x="488.4" y="126.3">TD-Coughlin-2019+<tspan font-family="Liberation Serif, serif" font-size="23" letter-spacing="0.8">χ</tspan>EFT+GMR</text>
<text x="488.4" y="152.7">TD-LVC-2018</text>
<text x="488.4" y="179.1"><tspan letter-spacing="-0.18">TD-De-2018</tspan></text>
<text x="488.4" y="206.0">TD-Coughlin-2019</text>
<text x="488.4" y="234.8"><tspan font-family="Liberation Serif, serif" font-size="23" letter-spacing="0.8">χ</tspan>EFT</text>
<text x="488.4" y="261.7">GMR</text>
</g>
</svg>
</body></html>
